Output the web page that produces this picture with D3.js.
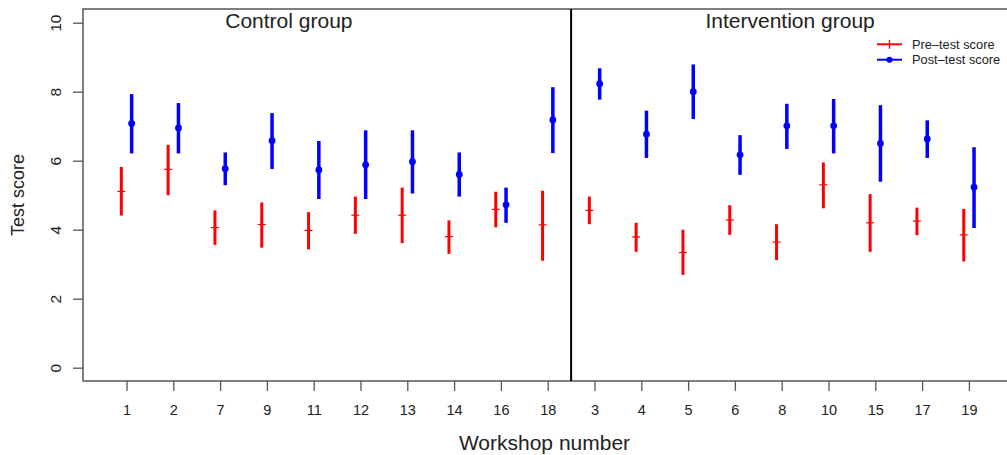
<!DOCTYPE html>
<html>
<head>
<meta charset="utf-8">
<script src="https://cdn.jsdelivr.net/npm/d3@7"></script>
<style>
  html, body { margin: 0; padding: 0; background: #fff; }
  svg { display: block; font-family: "Liberation Sans", Arial, Helvetica, sans-serif; }
</style>
</head>
<body>
<svg id="chart" width="1007" height="455"></svg>
<script>
// ---- data ----
const workshops = ["1","2","7","9","11","12","13","14","16","18","3","4","5","6","8","10","15","17","19"];
const groupNames = ["Control group", "Intervention group"];
const controlCount = 10;
const preMean  = [5.11,5.75,4.06,4.15,3.98,4.42,4.42,3.80,4.59,4.14, 4.56,3.79,3.34,4.28,3.64,5.30,4.20,4.25,3.85];
const preLow   = [4.41,5.00,3.56,3.48,3.43,3.88,3.61,3.30,4.07,3.10, 4.16,3.36,2.69,3.85,3.12,4.62,3.36,3.84,3.08];
const preHigh  = [5.82,6.46,4.56,4.79,4.51,4.96,5.22,4.27,5.10,5.13, 4.96,4.20,4.00,4.71,4.16,5.95,5.03,4.64,4.60];
const postMean = [7.08,6.95,5.77,6.58,5.73,5.88,5.97,5.60,4.72,7.18, 8.23,6.77,8.00,6.17,7.01,7.01,6.50,6.63,5.23];
const postLow  = [6.21,6.21,5.29,5.76,4.89,4.89,5.05,4.96,4.20,6.22, 7.77,6.08,7.21,5.59,6.34,6.21,5.39,6.08,4.05];
const postHigh = [7.93,7.67,6.24,7.38,6.57,6.88,6.88,6.24,5.22,8.13, 8.68,7.45,8.79,6.74,7.65,7.79,7.61,7.17,6.39];
const yTicks = [0, 2, 4, 6, 8, 10];
const seriesNames = ["Pre\u2013test score", "Post\u2013test score"];
const xLabel = "Workshop number";
const yLabel = "Test score";

// ---- layout ----
const W = 1007, H = 455;
const box = { left: 83, top: 9, right: 1009, bottom: 381 };
const colPre = "#ff0000", colPost = "#0000ff", axisCol = "#555";
const svg = d3.select("#chart");

const x = d3.scaleLinear().domain([1, workshops.length]).range([126.5, 968.9]);
const y = d3.scaleLinear().domain([0, 10]).range([367.7, 22.7]);
const off = 0.11; // horizontal dodge in index units

const rows = workshops.map((w, i) => ({
  w, idx: i + 1,
  pre: preMean[i], preLo: preLow[i], preHi: preHigh[i],
  post: postMean[i], postLo: postLow[i], postHi: postHigh[i]
}));

// box (top, left, bottom)
svg.append("rect")
  .attr("x", box.left).attr("y", box.top)
  .attr("width", box.right - box.left).attr("height", box.bottom - box.top)
  .attr("fill", "none").attr("stroke", axisCol).attr("stroke-width", 1.5);

// y axis
const yAxis = d3.axisLeft(y).tickValues(yTicks).tickSize(10).tickPadding(0).tickFormat(d3.format("d"));
const gy = svg.append("g").attr("transform", `translate(${box.left},0)`).call(yAxis);
gy.select(".domain").remove();
gy.selectAll(".tick line").attr("stroke", axisCol).attr("stroke-width", 1.3);
gy.selectAll(".tick text")
  .attr("x", null).attr("dy", null)
  .attr("transform", "translate(-22.5,0) rotate(-90)")
  .attr("text-anchor", "middle")
  .attr("font-size", "15.5px").attr("fill", "#222");

// x axis
const xAxis = d3.axisBottom(x).tickValues(rows.map(r => r.idx)).tickSize(10).tickPadding(0)
  .tickFormat(d => workshops[d - 1]);
const gx = svg.append("g").attr("transform", `translate(0,${box.bottom})`).call(xAxis);
gx.select(".domain").remove();
gx.selectAll(".tick line").attr("stroke", axisCol).attr("stroke-width", 1.3);
gx.selectAll(".tick text").attr("y", 34).attr("dy", null)
  .attr("font-size", "14.5px").attr("fill", "#222");

// divider
svg.append("line")
  .attr("x1", x(controlCount + 0.5)).attr("x2", x(controlCount + 0.5))
  .attr("y1", box.top).attr("y2", box.bottom)
  .attr("stroke", "#000").attr("stroke-width", 2);

// group titles
svg.append("text").attr("x", x(4.47)).attr("y", 28.3).attr("text-anchor", "middle")
  .attr("font-size", "21px").attr("fill", "#222").text(groupNames[0]);
svg.append("text").attr("x", x(15.18)).attr("y", 28.3).attr("text-anchor", "middle")
  .attr("font-size", "21px").attr("fill", "#222").text(groupNames[1]);

// axis titles
svg.append("text").attr("x", (box.left + 1006) / 2).attr("y", 450).attr("text-anchor", "middle")
  .attr("font-size", "21px").attr("fill", "#222").text(xLabel);
svg.append("text").attr("transform", `translate(24,${(box.top + box.bottom) / 2}) rotate(-90)`)
  .attr("text-anchor", "middle").attr("font-size", "18px").attr("fill", "#222").text(yLabel);

// pre-test
const gPre = svg.append("g");
gPre.selectAll("line.bar").data(rows).join("line").attr("class", "bar")
  .attr("x1", d => x(d.idx - off)).attr("x2", d => x(d.idx - off))
  .attr("y1", d => y(d.preLo)).attr("y2", d => y(d.preHi))
  .attr("stroke", colPre).attr("stroke-width", 3);
gPre.selectAll("line.tick").data(rows).join("line").attr("class", "tick")
  .attr("x1", d => x(d.idx - off) - 4).attr("x2", d => x(d.idx - off) + 4)
  .attr("y1", d => y(d.pre)).attr("y2", d => y(d.pre))
  .attr("stroke", colPre).attr("stroke-width", 1.2);

// post-test
const gPost = svg.append("g");
gPost.selectAll("line").data(rows).join("line")
  .attr("x1", d => x(d.idx + off)).attr("x2", d => x(d.idx + off))
  .attr("y1", d => y(d.postLo)).attr("y2", d => y(d.postHi))
  .attr("stroke", colPost).attr("stroke-width", 3.5);
gPost.selectAll("circle").data(rows).join("circle")
  .attr("cx", d => x(d.idx + off)).attr("cy", d => y(d.post)).attr("r", 3.4)
  .attr("fill", colPost);

// legend
const lg = svg.append("g").attr("transform", "translate(877,0)");
const legRows = [{ name: seriesNames[0], col: colPre, y: 44.3, pre: true },
                 { name: seriesNames[1], col: colPost, y: 59.7, pre: false }];
legRows.forEach(r => {
  lg.append("line").attr("x1", 0).attr("x2", 25).attr("y1", r.y).attr("y2", r.y)
    .attr("stroke", r.col).attr("stroke-width", 2);
  if (r.pre) {
    lg.append("line").attr("x1", 12.5).attr("x2", 12.5).attr("y1", r.y - 4.5).attr("y2", r.y + 4.5)
      .attr("stroke", r.col).attr("stroke-width", 1.3);
  } else {
    lg.append("circle").attr("cx", 12.5).attr("cy", r.y).attr("r", 3).attr("fill", r.col);
  }
  lg.append("text").attr("x", 35).attr("y", r.y + 4.6).attr("font-size", "12.8px")
    .attr("fill", "#222").text(r.name);
});
</script>
</body>
</html>
